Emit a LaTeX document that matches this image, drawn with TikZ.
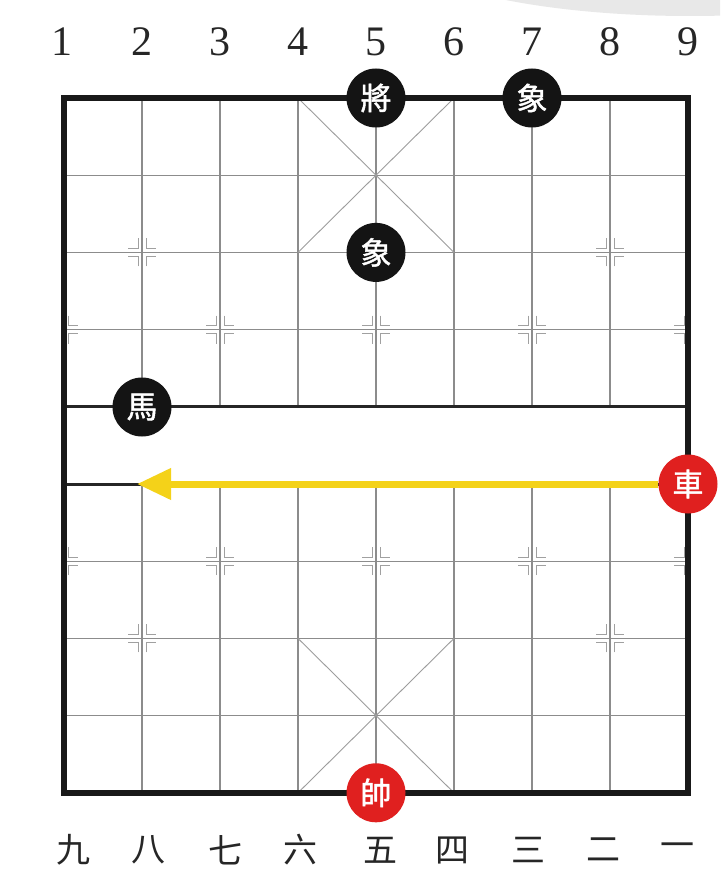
\documentclass[tikz,border=0pt]{standalone}
\usepackage{fontspec}
\setmainfont{Liberation Serif}
\newfontfamily\cjk{Noto Sans CJK SC}
\newfontfamily\cjkpiece[FakeBold=1.5]{Noto Sans CJK TC}
\usetikzlibrary{arrows.meta}
\definecolor{gridgray}{HTML}{8C8C8C}
\definecolor{markgray}{HTML}{A0A0A0}
\definecolor{piecered}{HTML}{E0201F}
\definecolor{arrowyellow}{HTML}{F4D219}
\definecolor{blobgray}{HTML}{E8E8E8}
\begin{document}
\begin{tikzpicture}[x=1pt,y=-1pt,
  gridline/.style={draw=gridgray,line width=1.1pt},
  palace/.style={draw=gridgray!85,line width=0.9pt},
  markline/.style={draw=markgray,line width=1pt},
  border/.style={draw=black!90,line width=5.5pt},
  river/.style={draw=black!85,line width=3pt},
  blackpiece/.style={circle,fill=black!92,minimum size=59pt,inner sep=0pt,text=white,font=\cjkpiece\fontsize{31}{31}\selectfont},
  redpiece/.style={blackpiece,fill=piecered},
  filelabel/.style={font=\fontsize{42}{42}\selectfont,text=black!85,inner sep=0pt},
  ranklabel/.style={font=\cjk\fontsize{34}{34}\selectfont,text=black!85,inner sep=0pt},
  movearrow/.style={draw=arrowyellow,line width=7pt,-{Triangle[length=34pt,width=30pt]}},
  halfR/.pic={\draw[markline] (4,-14)--(4,-4)--(14,-4) (4,14)--(4,4)--(14,4);},
  halfL/.pic={\draw[markline] (-4,-14)--(-4,-4)--(-14,-4) (-4,14)--(-4,4)--(-14,4);}
]
\useasboundingbox (0,0) rectangle (720,888);
\fill[white] (0,0) rectangle (720,888);
\begin{scope}
\clip (0,0) rectangle (720,888);
\fill[blobgray] (690,-60) ellipse [x radius=300, y radius=76];
\end{scope}

% inner vertical lines
\foreach \i in {1,...,7} {
  \draw[gridline] ({64+78*\i},98) -- ({64+78*\i},406.8);
  \draw[gridline] ({64+78*\i},484) -- ({64+78*\i},792.8);
}
% inner horizontal lines
\foreach \j in {1,2,3,6,7,8} {
  \draw[gridline] (64,{98+77.2*\j}) -- (688,{98+77.2*\j});
}
% palaces
\draw[palace] (298,98) -- (454,252.4) (454,98) -- (298,252.4);
\draw[palace] (298,638.4) -- (454,792.8) (454,638.4) -- (298,792.8);

% star marks
\foreach \x in {142,610} {
  \pic at (\x,252.4) {halfR}; \pic at (\x,252.4) {halfL};
  \pic at (\x,638.4) {halfR}; \pic at (\x,638.4) {halfL};
}
\foreach \y in {329.6,561.2} {
  \pic at (64,\y) {halfR};
  \foreach \x in {220,376,532} { \pic at (\x,\y) {halfR}; \pic at (\x,\y) {halfL}; }
  \pic at (688,\y) {halfL};
}

% river edges and border
\draw[river] (64,406.8) -- (688,406.8);
\draw[river] (64,484) -- (688,484);
\draw[border] (64,98) rectangle (688,792.8);

% file labels
\foreach \n/\x in {1/62,2/142,3/220,4/298,5/376,6/454,7/532,8/610,9/688} {
  \node[filelabel] (top\n) at (\x,42) {\n};
}
\node[ranklabel] (r9) at (73,850) {九};
\node[ranklabel] (r8) at (148,850) {八};
\node[ranklabel] (r7) at (225,850) {七};
\node[ranklabel] (r6) at (300,850) {六};
\node[ranklabel] (r5) at (380,850) {五};
\node[ranklabel] (r4) at (452,850) {四};
\node[ranklabel] (r3) at (528,850) {三};
\node[ranklabel] (r2) at (603,850) {二};
\node[ranklabel] (r1) at (677,850) {一};

% pieces
\node[blackpiece] (jiang) at (376,98) {將};
\node[blackpiece] (xiangA) at (532,98) {象};
\node[blackpiece] (xiangB) at (376,252.4) {象};
\node[blackpiece] (ma) at (142,407) {馬};
\node[redpiece] (che) at (688,484) {車};
\node[redpiece] (shuai) at (376,792.8) {帥};

% move arrow
\coordinate (target) at (137,484);
\draw[movearrow] (che) -- (target);
\end{tikzpicture}
\end{document}
